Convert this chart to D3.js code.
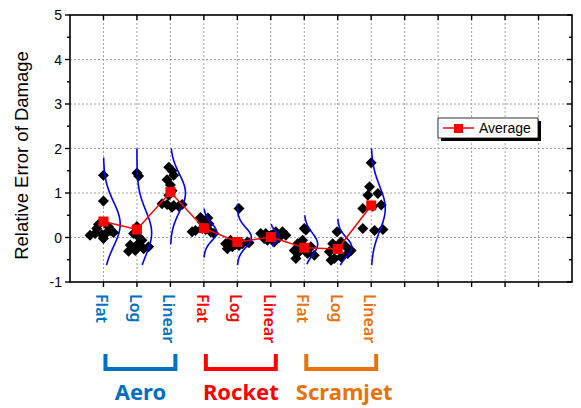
<!DOCTYPE html>
<html><head><meta charset="utf-8">
<script src="https://cdn.jsdelivr.net/npm/d3@7"></script>
<style>body{margin:0;background:#fff}svg{display:block}</style>
</head><body>
<svg id="c" width="581" height="408"></svg>
<script>
// ---------- data ----------
const categories = ["Flat","Log","Linear","Flat","Log","Linear","Flat","Log","Linear"];
const groups = ["Aero","Rocket","Scramjet"];
const yTicks = [-1,0,1,2,3,4,5];
const averages = [0.36, 0.18, 1.02, 0.21, -0.10, 0.01, -0.23, -0.26, 0.72];
// points: [value, x-jitter in category units]
const ptsAeroFlat = [[1.40,0],[0.82,0],[0.29,-0.15],[0.24,0.15],[0.20,-0.2],[0.11,0.1],[0.11,0.3],[0.09,-0.25],[0.07,-0.05],[-0.02,0],[0.15,0.2],[0.05,-0.4]];
const ptsAeroLog = [[1.45,0],[1.38,0.05],[0.09,-0.1],[0.01,0.05],[-0.06,0.15],[-0.17,-0.2],[-0.17,0],[-0.25,0.2],[-0.31,-0.25],[-0.29,-0.05],[-0.21,0.35],[0.25,0]];
const ptsAeroLinear = [[1.58,-0.05],[1.50,0.05],[1.40,0.1],[1.30,-0.1],[1.18,0],[1.05,0.05],[0.95,-0.05],[0.76,-0.25],[0.74,-0.1],[0.72,0.1],[0.70,0.25],[0.68,0.05],[0.74,0.35]];
const ptsRocketFlat = [[0.45,-0.1],[0.44,0.12],[0.35,-0.05],[0.31,0.15],[0.20,-0.05],[0.16,-0.25],[0.13,-0.35],[0.13,0.2],[0.09,0.3],[0.18,0.05]];
const ptsRocketLog = [[0.65,0.05],[-0.06,-0.2],[-0.10,0.3],[-0.14,-0.35],[-0.14,0.15],[-0.18,0.05],[-0.21,-0.15],[-0.25,-0.3],[-0.12,0.35],[-0.16,-0.05]];
const ptsRocketLinear = [[0.13,0.15],[0.13,0.35],[0.09,-0.3],[0.09,-0.15],[0.05,0.45],[-0.06,-0.1],[-0.10,0.1],[0.0,0.25],[-0.02,-0.2],[0.05,0]];
const ptsScramFlat = [[0.20,0],[0.17,0.05],[-0.06,-0.05],[-0.14,-0.2],[-0.21,0.2],[-0.29,-0.3],[-0.32,-0.15],[-0.36,0.1],[-0.40,0.3],[-0.47,-0.25]];
const ptsScramLog = [[0.13,-0.02],[-0.10,0.1],[-0.14,-0.15],[-0.21,0.25],[-0.29,0.4],[-0.32,-0.25],[-0.36,0.3],[-0.44,0.1],[-0.47,-0.1],[-0.51,-0.2]];
const ptsScramLinear = [[1.68,0],[1.14,-0.05],[0.99,0.2],[0.95,-0.1],[0.73,0.3],[0.65,-0.25],[0.70,0.05],[0.20,-0.25],[0.16,0.1],[0.18,0.35]];
const points = [ptsAeroFlat, ptsAeroLog, ptsAeroLinear, ptsRocketFlat, ptsRocketLog, ptsRocketLinear, ptsScramFlat, ptsScramLog, ptsScramLinear];
// distribution curves: [mean, sd, lo, hi, peak width in category units]
const curves = [
  [0.30,0.50,-0.62,1.80,0.50],
  [0.10,0.50,-0.62,2.00,0.44],
  [1.00,0.42,-0.15,2.00,0.45],
  [0.12,0.20,-0.45,0.65,0.38],
  [0.00,0.22,-0.62,0.75,0.42],
  [0.02,0.12,-0.20,0.30,0.25],
  [-0.15,0.25,-0.60,0.50,0.40],
  [-0.22,0.22,-0.62,0.42,0.42],
  [0.65,0.50,-0.62,2.00,0.42]
];
const legendLabel = "Average";
const yTitle = "Relative Error of Damage";

// ---------- drawing ----------
const groupColors = ["#0070C0","#FF0000","#E8720C"];
const svg = d3.select("#c");
const L = 70, R = 572, T = 15, B = 282;
const x = d3.scaleLinear().domain([0, 15]).range([L, R]);
const y = d3.scaleLinear().domain([-1, 5]).range([B, T]);
const xIdx = i => x(i + 1);

// gridlines
const grid = svg.append("g").attr("stroke","#a0a0a0").attr("stroke-width",1).attr("stroke-dasharray","2,2");
d3.range(1, 15).forEach(v => grid.append("line").attr("x1",x(v)).attr("x2",x(v)).attr("y1",T).attr("y2",B));
d3.range(0, 5).forEach(v => grid.append("line").attr("x1",L).attr("x2",R).attr("y1",y(v)).attr("y2",y(v)));

// diamonds
const diamond = "M0,-5.5L5.5,0L0,5.5L-5.5,0Z";
points.forEach((arr, i) => {
  svg.append("g").selectAll("path").data(arr).join("path")
    .attr("d", diamond).attr("fill","#000")
    .attr("transform", d => `translate(${x(i + 1 + d[1])},${y(d[0])})`);
});

// distribution curves
curves.forEach((c, i) => {
  const [m, s, lo, hi, pk] = c;
  const ys = d3.range(0, 101).map(k => lo + (hi - lo) * k / 100);
  const line = d3.line()
    .x(v => x(i + 1 + pk * Math.exp(-0.5 * ((v - m) / s) ** 2)))
    .y(v => y(v)).curve(d3.curveBasis);
  svg.append("path").attr("d", line(ys)).attr("fill","none").attr("stroke","#0000FF").attr("stroke-width",1.6);
});

// average line
svg.append("path").datum(averages)
  .attr("d", d3.line().x((d,i) => xIdx(i)).y(d => y(d)))
  .attr("fill","none").attr("stroke","#FF0000").attr("stroke-width",1.5);
svg.append("g").selectAll("rect").data(averages).join("rect")
  .attr("x",(d,i) => xIdx(i) - 5).attr("y", d => y(d) - 5)
  .attr("width",10).attr("height",10).attr("fill","#FF0000");

// axes frame
const axisG = svg.append("g").attr("stroke","#000").attr("fill","none");
axisG.append("rect").attr("x",L).attr("y",T).attr("width",R-L).attr("height",B-T).attr("stroke-width",1.6);
d3.range(-1, 5.01, 0.5).forEach(v => {
  const major = Math.abs(v - Math.round(v)) < 1e-6;
  const len = major ? 5 : 3;
  axisG.append("line").attr("x1",L - len).attr("x2",L).attr("y1",y(v)).attr("y2",y(v)).attr("stroke-width",1.4);
  axisG.append("line").attr("x1",R - len).attr("x2",R).attr("y1",y(v)).attr("y2",y(v)).attr("stroke-width",1.4);
});
d3.range(1, 15).forEach(v => {
  axisG.append("line").attr("x1",x(v)).attr("x2",x(v)).attr("y1",B).attr("y2",B + 5).attr("stroke-width",1.4);
  axisG.append("line").attr("x1",x(v)).attr("x2",x(v)).attr("y1",T).attr("y2",T + 5).attr("stroke-width",1.4);
});

// y tick labels
svg.append("g").selectAll("text").data(yTicks).join("text")
  .attr("x", L - 8).attr("y", d => y(d)).attr("dy","0.36em")
  .attr("text-anchor","end").attr("font-family","Liberation Sans, Arial, sans-serif")
  .attr("font-size",14).attr("fill","#000").text(d => d);

// y title
svg.append("text").attr("transform",`translate(28,${(T+B)/2 + 7}) rotate(-90)`)
  .attr("text-anchor","middle").attr("font-family","Liberation Sans, Arial, sans-serif")
  .attr("font-size",18.5).attr("fill","#000").text(yTitle);

// category labels (rotated)
svg.append("g").selectAll("text").data(categories).join("text")
  .attr("transform",(d,i) => `translate(${xIdx(i) - 1},${B + 12}) rotate(90)`)
  .attr("text-anchor","start").attr("dominant-baseline","central")
  .attr("font-family","Noto Sans, sans-serif").attr("font-size",16).attr("font-weight",600)
  .attr("fill",(d,i) => groupColors[Math.floor(i/3)]).text(d => d);

// group brackets & labels
groups.forEach((g, gi) => {
  const x0 = xIdx(gi*3) + 2, x1 = xIdx(gi*3 + 2) + 5;
  svg.append("path").attr("d",`M${x0},354V369H${x1}V354`)
    .attr("fill","none").attr("stroke",groupColors[gi]).attr("stroke-width",4);
  svg.append("text").attr("x",(x0 + x1)/2 + (gi === 2 ? 3 : 0)).attr("y",400)
    .attr("text-anchor","middle").attr("font-family","Noto Sans, sans-serif")
    .attr("font-weight","bold").attr("font-size",22)
    .attr("fill",groupColors[gi]).text(g);
});

// legend
const lg = svg.append("g");
lg.append("rect").attr("x",441).attr("y",121).attr("width",100).attr("height",20).attr("fill","#000");
lg.append("rect").attr("x",438).attr("y",118).attr("width",100).attr("height",20).attr("fill","#fff").attr("stroke","#000").attr("stroke-width",0.8);
lg.append("line").attr("x1",443).attr("x2",474).attr("y1",128).attr("y2",128).attr("stroke","#FF0000").attr("stroke-width",1.5);
lg.append("rect").attr("x",454).attr("y",124).attr("width",9).attr("height",9).attr("fill","#FF0000");
lg.append("text").attr("x",479).attr("y",133).attr("font-family","Liberation Sans, Arial, sans-serif")
  .attr("font-size",14).attr("fill","#000").text(legendLabel);
</script>
</body></html>
